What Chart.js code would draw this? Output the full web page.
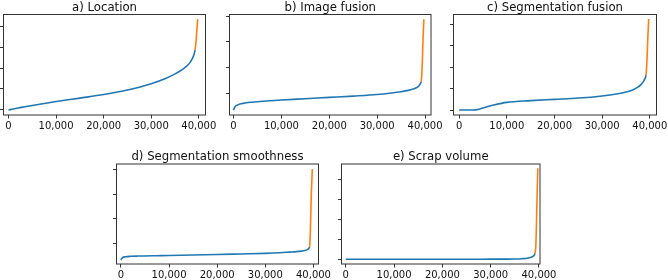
<!DOCTYPE html>
<html><head><meta charset="utf-8">
<script src="https://cdn.jsdelivr.net/npm/chart.js@4.4.1/dist/chart.umd.min.js"></script>
<style>
html,body{margin:0;padding:0;background:#fff;}
#wrap{position:relative;width:668px;height:280px;overflow:hidden;background:#fff;}
canvas{position:absolute;left:0;top:0;}
</style></head><body>
<div id="wrap">
<canvas id="c0" width="668" height="280"></canvas>
<canvas id="c1" width="668" height="280"></canvas>
<canvas id="c2" width="668" height="280"></canvas>
<canvas id="c3" width="668" height="280"></canvas>
<canvas id="c4" width="668" height="280"></canvas>
</div>
<script>
// ---- data ----
const titles = ['a) Location', 'b) Image fusion', 'c) Segmentation fusion', 'd) Segmentation smoothness', 'e) Scrap volume'];
const xTicks = [0, 10000, 20000, 30000, 40000];
const yTicksFull = [0, 1, 2, 3, 4];
const yTicksUpper = [1, 2, 3, 4];
const blueX = [0, 300, 1000, 2000, 3500, 5000, 7500, 10000, 15000, 20000, 25000, 30000, 33000, 35000, 36500, 37500, 38200, 38700, 39000, 39200];
const tailX = [39200, 39350, 39450, 39550, 39650, 39760];

const locationY = [0, 0.015, 0.05, 0.095, 0.155, 0.215, 0.31, 0.4, 0.565, 0.735, 0.95, 1.25, 1.5, 1.72, 1.92, 2.1, 2.28, 2.48, 2.66, 2.85];
const locationTail = [2.85, 3.12, 3.38, 3.68, 4.0, 4.33];
const imageY = [0.37, 0.5, 0.58, 0.63, 0.67, 0.69, 0.73, 0.76, 0.81, 0.86, 0.91, 0.97, 1.03, 1.08, 1.13, 1.18, 1.23, 1.3, 1.38, 1.46];
const imageTail = [1.46, 1.8, 2.3, 2.9, 3.4, 3.88];
const segFusionY = [0, 0, 0, 0, 0.01, 0.1, 0.25, 0.36, 0.44, 0.5, 0.56, 0.66, 0.75, 0.84, 0.95, 1.07, 1.2, 1.35, 1.48, 1.62];
const segFusionTail = [1.62, 2.1, 2.6, 3.2, 3.7, 4.25];
const smoothY = [0.34, 0.43, 0.47, 0.49, 0.5, 0.505, 0.515, 0.525, 0.54, 0.56, 0.585, 0.61, 0.635, 0.66, 0.68, 0.7, 0.72, 0.76, 0.8, 0.86];
const smoothTail = [0.86, 1.5, 2.3, 3.0, 3.5, 4.01];
const scrapY = [0, 0, 0, 0, 0, 0, 0, 0, 0, 0.002, 0.004, 0.007, 0.01, 0.015, 0.03, 0.05, 0.09, 0.14, 0.2, 0.3];
const scrapTail = [0.3, 0.7, 1.5, 2.6, 3.6, 4.55];

// ---- layout (positions only) ----
const panels = [
  {y: locationY, tail: locationTail, yTicks: yTicksFull, box: [3.5, 14.5, 205.5, 115], xr: [-1050, 41400], yr: [-0.24, 4.55], mid: 7.8},
  {y: imageY, tail: imageTail, yTicks: yTicksUpper, box: [229.5, 14.5, 431, 115], xr: [-840, 41250], yr: [0.18, 4.06], mid: 7.8},
  {y: segFusionY, tail: segFusionTail, yTicks: yTicksFull, box: [453.5, 14.5, 656.5, 115], xr: [-1190, 41400], yr: [-0.23, 4.46], mid: 7.8},
  {y: smoothY, tail: smoothTail, yTicks: yTicksUpper, box: [116.5, 164, 318.5, 264], xr: [-910, 41040], yr: [0.18, 4.21], mid: 157.3},
  {y: scrapY, tail: scrapTail, yTicks: yTicksFull, box: [341.5, 164, 540, 264], xr: [-890, 40210], yr: [-0.235, 4.765], mid: 157.3}
];

const W = 668, H = 280, XH = 20, TFS = 11.7, TLH = 0.9, FS = 10;
const FONT = "'DejaVu Sans', sans-serif";
const boxPlugin = {
  id: 'box',
  afterDatasetsDraw(chart) {
    const a = chart.chartArea, ctx = chart.ctx;
    ctx.save();
    ctx.strokeStyle = '#333';
    ctx.lineWidth = 1;
    ctx.strokeRect(a.left, a.top, a.right - a.left, a.bottom - a.top);
    ctx.restore();
  }
};

panels.forEach((p, i) => {
  const [L, T, R, B] = p.box;
  const titleH = TFS * TLH;
  const padTop = Math.max(p.mid - titleH / 2, 0);
  const gap = T - padTop - titleH;
  new Chart(document.getElementById('c' + i), {
    type: 'line',
    data: {
      datasets: [
        {data: blueX.map((x, k) => ({x: x, y: p.y[k]})), borderColor: '#1f77b4', borderWidth: 1.6, pointRadius: 0, cubicInterpolationMode: 'monotone', fill: false},
        {data: tailX.map((x, k) => ({x: x, y: p.tail[k]})), borderColor: '#ff7f0e', borderWidth: 1.6, pointRadius: 0, cubicInterpolationMode: 'monotone', fill: false}
      ]
    },
    options: {
      responsive: false, animation: false, devicePixelRatio: 1,
      layout: {autoPadding: false, padding: {left: L, right: W - R, top: padTop, bottom: H - B - XH}},
      plugins: {
        legend: {display: false}, tooltip: {enabled: false},
        title: {display: true, text: titles[i], color: '#111', align: 'center',
          font: {family: FONT, size: TFS, weight: 'normal', lineHeight: TLH},
          padding: {top: 0, bottom: gap}}
      },
      scales: {
        x: {
          type: 'linear', min: p.xr[0], max: p.xr[1],
          afterBuildTicks(s) { s.ticks = xTicks.map(v => ({value: v})); },
          afterFit(s) { s.height = XH; s.paddingLeft = 0; s.paddingRight = 0; },
          ticks: {padding: 3, color: '#111', autoSkip: false, maxRotation: 0,
            font: {family: FONT, size: FS, lineHeight: 1},
            callback: v => Number(v).toLocaleString('en-US')},
          grid: {drawOnChartArea: false, drawTicks: true, tickLength: 3.5, color: '#333', tickColor: '#333', tickWidth: 1},
          border: {display: false}
        },
        y: {
          type: 'linear', min: p.yr[0], max: p.yr[1],
          afterBuildTicks(s) { s.ticks = p.yTicks.map(v => ({value: v})); },
          afterFit(s) { s.width = 0; s.paddingTop = 0; s.paddingBottom = 0; },
          ticks: {display: false},
          grid: {drawOnChartArea: false, drawTicks: true, tickLength: 3.5, color: '#333', tickColor: '#333', tickWidth: 1},
          border: {display: false}
        }
      }
    },
    plugins: [boxPlugin]
  });
});
</script>
</body></html>
